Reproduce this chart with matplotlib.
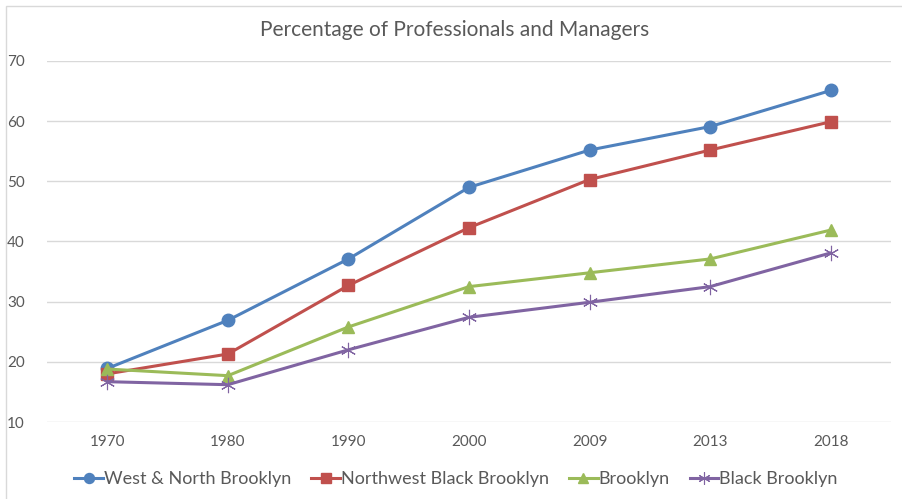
import matplotlib
matplotlib.use("Agg")
import matplotlib.pyplot as plt
from matplotlib.patches import Rectangle

years = ["1970", "1980", "1990", "2000", "2009", "2013", "2018"]
west_north = [18.9, 26.9, 37.1, 49.0, 55.2, 59.1, 65.1]
nw_black = [18.0, 21.3, 32.7, 42.3, 50.3, 55.2, 59.9]
brooklyn = [18.8, 17.7, 25.8, 32.5, 34.8, 37.1, 41.9]
black_brooklyn = [16.7, 16.2, 22.0, 27.4, 29.9, 32.5, 38.1]

series_names = ["West & North Brooklyn", "Northwest Black Brooklyn", "Brooklyn", "Black Brooklyn"]
colors = ["#4F81BD", "#C0504D", "#9BBB59", "#8064A2"]

plt.rcParams['font.family'] = ['Lato', 'DejaVu Sans']
W, H = 903, 499
fig = plt.figure(figsize=(W / 100, H / 100), dpi=100)
ax = fig.add_axes([47 / W, 1 - 422 / H, (891 - 47) / W, (422 - 61) / H])

x = list(range(len(years)))
styles = [dict(marker='o', ms=9), dict(marker='s', ms=8.5), dict(marker='^', ms=9),
          dict(marker=(6, 2, 0), ms=11, mew=0.8)]
for vals, name, c, st in zip([west_north, nw_black, brooklyn, black_brooklyn], series_names, colors, styles):
    ax.plot(x, vals, color=c, lw=2.2, label=name, mfc=c, mec=c, **st)

ax.set_xlim(-0.5, len(years) - 0.5)
ax.set_ylim(10, 70)
ax.set_yticks(range(10, 71, 10))
ax.set_xticks(x)
ax.set_xticklabels(years)
ax.grid(axis='y', color='#D9D9D9', lw=1)
ax.set_axisbelow(True)
for s in ax.spines.values():
    s.set_visible(False)
ax.tick_params(axis='both', length=0, labelsize=11, colors='#595959')
ax.tick_params(axis='y', pad=16)
ax.tick_params(axis='x', pad=9)

fig.text(455 / W, 1 - 30 / H, "Percentage of Professionals and Managers", ha='center', va='center',
         fontsize=15, color='#595959')

leg = fig.legend(loc='center', bbox_to_anchor=(456 / W, 1 - 479 / H), ncol=4, frameon=False,
                 fontsize=13, handlelength=1.6, handletextpad=0.05, columnspacing=1.1,
                 labelcolor='#595959', markerscale=0.8)

fig.patches.append(Rectangle((6 / W, -0.1), 1.2, 1 - 6 / H + 0.1, transform=fig.transFigure,
                             fill=False, edgecolor='#D9D9D9', lw=1))

fig.savefig("out.png", dpi=100)
